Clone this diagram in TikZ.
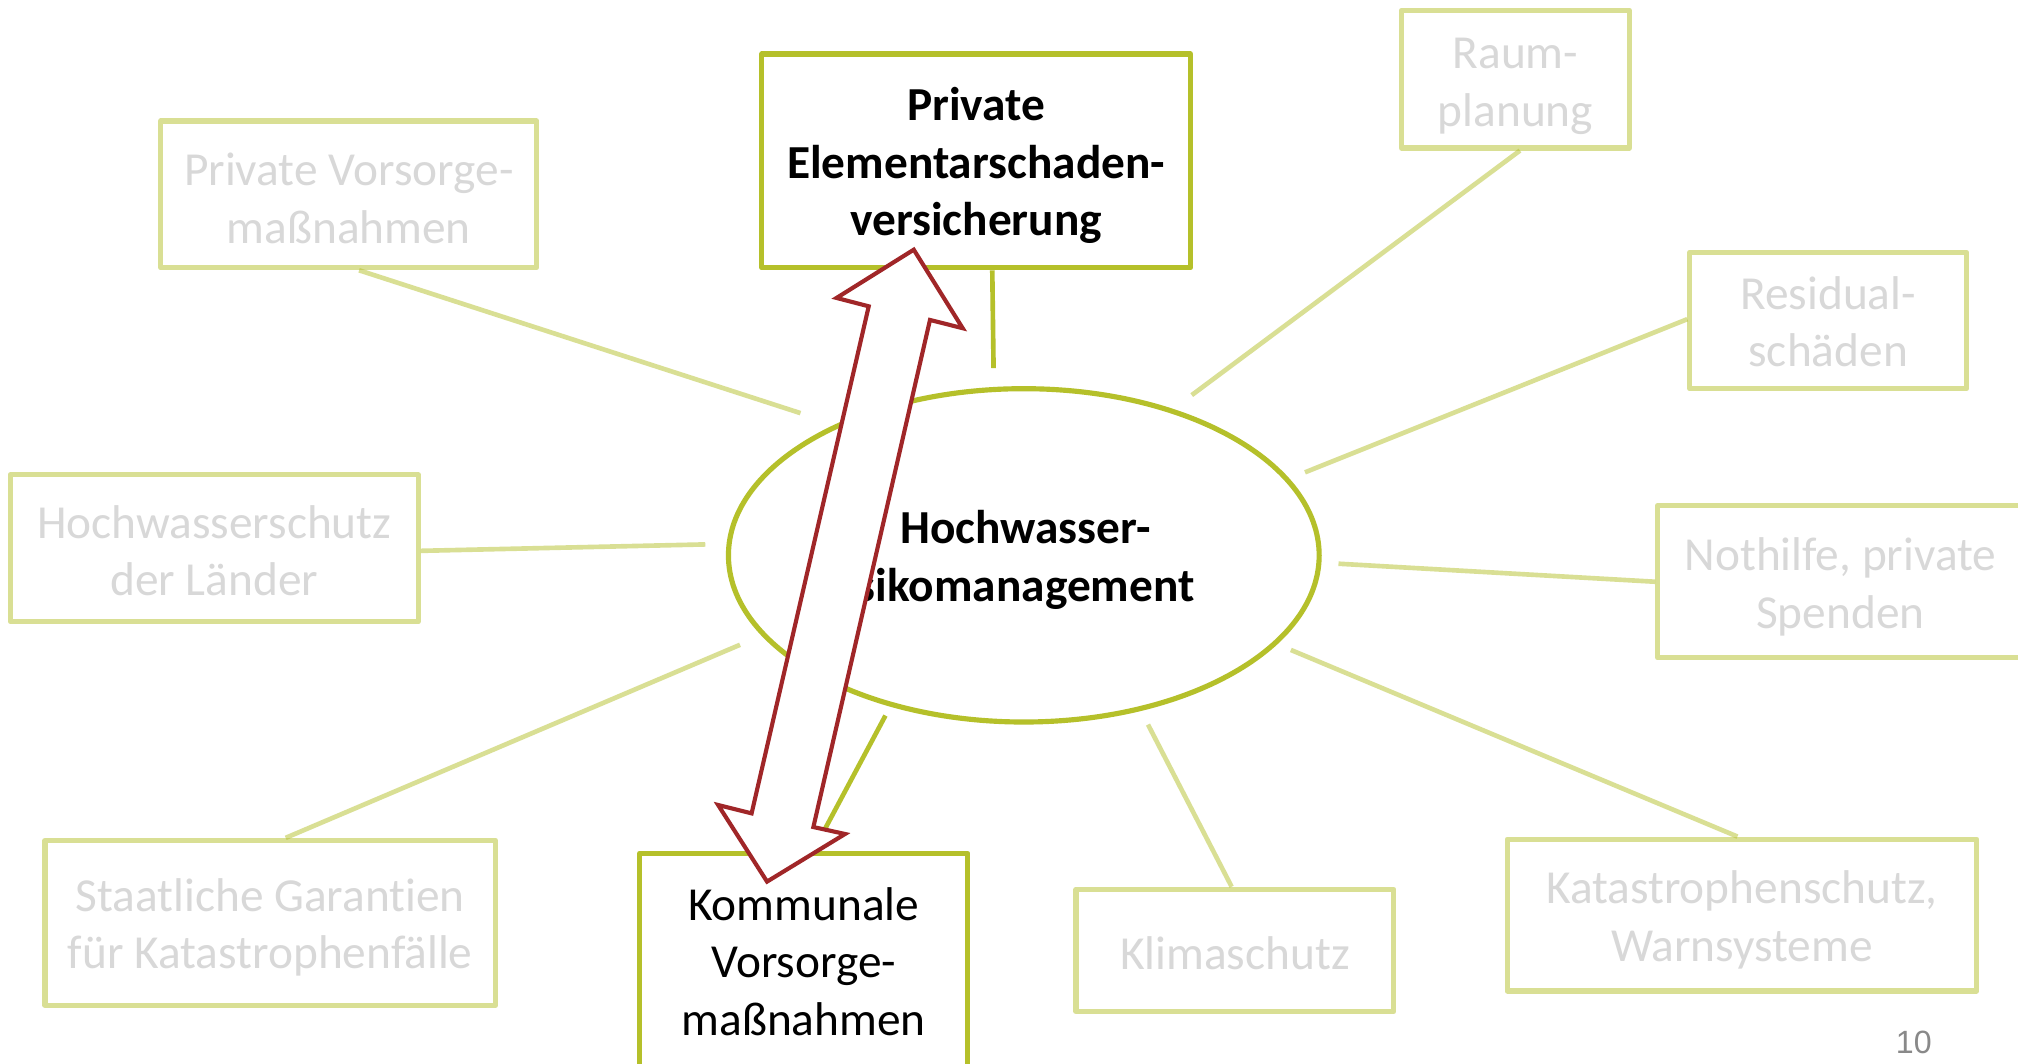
\documentclass[tikz,border=0pt]{standalone}
\usepackage{fontspec}
\setmainfont{Carlito}[Ligatures=NoCommon]
\newfontfamily\numfont{Liberation Sans}
\usetikzlibrary{shapes.geometric}
\definecolor{dgreen}{RGB}{181,192,42}
\definecolor{ared}{RGB}{160,38,40}
\definecolor{tgray}{RGB}{216,216,216}
\definecolor{pgray}{RGB}{137,137,137}
\begin{document}
\begin{tikzpicture}[x=0.5pt,y=-0.5pt,
  lightbox/.style={draw=dgreen, draw opacity=0.5, line width=2pt, line join=round,
    inner sep=0pt},
  keybox/.style={lightbox, draw opacity=1},
  boxtext/.style={inner sep=0pt, align=center, text=tgray,
    font=\fontsize{18.4pt}{22.4pt}\selectfont},
  keytext/.style={boxtext, text=black},
  lightlink/.style={draw=dgreen, draw opacity=0.5, line width=1.8pt},
  keylink/.style={draw=dgreen, line width=1.8pt},
  bigarrow/.style={draw=ared, fill=white, line width=1.6pt, line join=miter}]
\clip (0,0) rectangle (1568,826);
\fill[white] (0,0) rectangle (1568,826);

% centre ellipse
\node[ellipse, draw=dgreen, line width=2pt, inner sep=0pt,
  minimum width=229.5pt, minimum height=129.5pt] (el) at (795.5,431.5) {};

% boxes
\node[keybox, minimum width=166.5pt, minimum height=83pt] (pe) at (758.5,125) {};
\node[lightbox, minimum width=146pt, minimum height=57pt] (pv) at (271,151) {};
\node[lightbox, minimum width=158.5pt, minimum height=57pt] (hs) at (166.5,426) {};
\node[lightbox, minimum width=175pt, minimum height=64pt] (sg) at (210,717) {};
\node[keybox, minimum width=127.5pt, minimum height=84pt] (ko) at (624.5,747) {};
\node[lightbox, minimum width=123.5pt, minimum height=47.5pt] (kl) at (959.5,738.5) {};
\node[lightbox, minimum width=182.5pt, minimum height=59pt] (ka) at (1353.5,711) {};
\node[lightbox, minimum width=142pt, minimum height=59pt] (nh) at (1430,452) {};
\node[lightbox, minimum width=107.5pt, minimum height=53pt] (rs) at (1420.5,249) {};
\node[lightbox, minimum width=88.5pt, minimum height=53.5pt] (rp) at (1177.5,61.5) {};

% box texts
\node[keytext, font=\fontsize{18.4pt}{22.4pt}\selectfont\bfseries] (pet)
  at ([yshift=-1.8pt]pe.center) {Private\\Elementarschaden-\\versicherung};
\node[boxtext] (pvt) at ([yshift=-1.5pt]pv.center) {Private Vorsorge-\\maßnahmen};
\node[boxtext] (hst) at ([yshift=-1pt]hs.center) {Hochwasserschutz\\der Länder};
\node[boxtext] (sgt) at ([yshift=-1.8pt]sg.center) {Staatliche Garantien\\für Katastrophenfälle};
\node[keytext] (kot) at (ko.center) {Kommunale\\Vorsorge-\\maßnahmen};
\node[boxtext] (klt) at ([yshift=-1pt]kl.center) {Klimaschutz};
\node[boxtext] (kat) at ([yshift=-1.8pt]ka.center) {Katastrophenschutz,\\Warnsysteme};
\node[boxtext] (nht) at ([yshift=-2pt]nh.center) {Nothilfe, private\\Spenden};
\node[boxtext] (rst) at ([yshift=-0.5pt]rs.center) {Residual-\\schäden};
\node[boxtext] (rpt) at ([yshift=-2.8pt]rp.center) {Raum-\\planung};

% connector ends near the ellipse
\coordinate (c1) at (622,321);
\coordinate (c2) at (548,423);
\coordinate (c3) at (575,501);
\coordinate (c4) at (688,556);
\coordinate (c5) at (772,286);
\coordinate (c6) at (926,307);
\coordinate (c7) at (1014,367);
\coordinate (c8) at (1040,438);
\coordinate (c9) at (1003,505);
\coordinate (c10) at (892,563);

\draw[lightlink] ([xshift=4pt]pv.south) -- (c1);
\draw[lightlink] ([yshift=-1pt]hs.east) -- (c2);
\draw[lightlink] ([xshift=6pt]sg.north) -- (c3);
\draw[keylink] ([xshift=3.75pt]ko.north) -- (c4);
\draw[keylink] ([xshift=6.25pt]pe.south) -- (c5);
\draw[lightlink] ([xshift=1.75pt]rp.south) -- (c6);
\draw[lightlink] ([yshift=0.5pt]rs.west) -- (c7);
\draw[lightlink] (nh.west) -- (c8);
\draw[lightlink] ([xshift=-1.75pt]ka.north) -- (c9);
\draw[lightlink] ([xshift=-1.25pt]kl.north) -- (c10);

% ellipse text
\node[align=center, font=\fontsize{18.4pt}{22.4pt}\selectfont\bfseries] (eltext)
  at (797,435) {Hochwasser-\\sikomanagement};

% double block arrow
\draw[bigarrow] (710,194) -- (748,255) -- (722.6,248.6) -- (632,642.6)
  -- (656.6,648) -- (596,685) -- (558,625.5) -- (584,632) -- (675,238)
  -- (650,231.5) -- cycle;

% page number
\node[font=\numfont\fontsize{12.5pt}{15pt}\selectfont, text=pgray] (pnum)
  at (1487,810) {10};
\end{tikzpicture}
\end{document}
